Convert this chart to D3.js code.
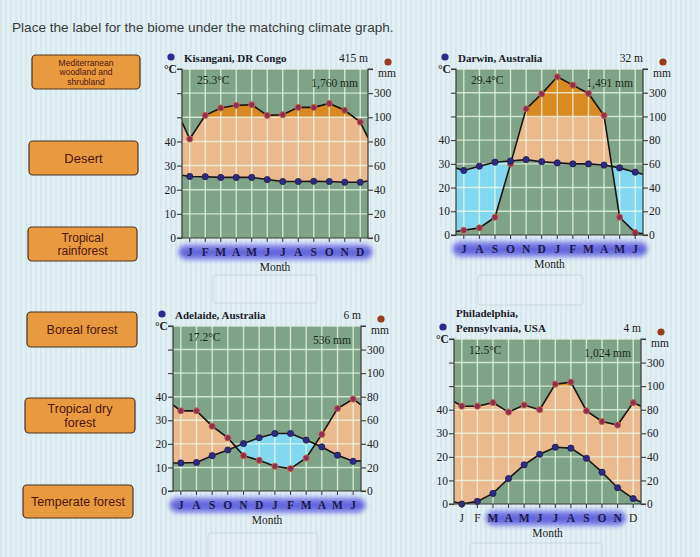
<!DOCTYPE html>
<html><head><meta charset="utf-8">
<script src="https://cdn.jsdelivr.net/npm/d3@7"></script>
<style>body{margin:0;background:#e2eff3;} svg{display:block}</style>
</head><body>
<svg id="c" width="700" height="557"></svg>
<script>
// ---------- data ----------
const monthsNorth = ["J","F","M","A","M","J","J","A","S","O","N","D"];
const monthsSouth = ["J","A","S","O","N","D","J","F","M","A","M","J"];

const kisTemp   = [25.5,25.4,25.1,25.1,25.1,24.2,23.4,23.4,23.5,23.4,23.1,23.1];
const kisPrecip = [82,116,177,199,204,116,121,182,182,215,158,96];
const kisTempEdge = [26.0,23.6];
const kisPrecipEdge = [96,83];

const darTemp   = [27.2,29.0,30.7,31.2,31.8,30.9,30.4,30.0,30.0,29.5,28.3,26.5];
const darPrecip = [4,6,15,60,164,290,434,364,294,108,15,2];
const darTempEdge = [28.2,25.6];
const darPrecipEdge = [3,1];

const adeTemp   = [11.9,12.1,15.0,17.4,20.1,22.6,24.4,24.4,21.6,18.7,15.2,12.6];
const adePrecip = [68,68,55,45,30,26,21,19,28,48,70,78];
const adeTempEdge = [11.9,12.8];
const adePrecipEdge = [73,73];

const phiTemp   = [0.0,1.1,4.5,10.8,16.6,21.1,24.1,23.7,19.4,13.5,6.9,2.3];
const phiPrecip = [83,83,86,78,84,80,117,134,79,70,67,86];
const phiTempEdge = [1.0,0.8];
const phiPrecipEdge = [87,83];

const tempTicks = [0,10,20,30,40];
const precipTicks = [0,20,40,60,80,100,300];

const labels = [
  ["Mediterranean","woodland and","shrubland"],
  ["Desert"],
  ["Tropical","rainforest"],
  ["Boreal forest"],
  ["Tropical dry","forest"],
  ["Temperate forest"]
];

// ---------- layout ----------
const charts = [
  {title:["Kisangani, DR Congo"], elev:"415 m", mean:"25.3°C", total:"1,760 mm",
   months:monthsNorth, temp:kisTemp, precip:kisPrecip, tEdge:kisTempEdge, pEdge:kisPrecipEdge,
   band:[0,11], left:182, right:368, top:69, zero:238},
  {title:["Darwin, Australia"], elev:"32 m", mean:"29.4°C", total:"1,491 mm",
   months:monthsSouth, temp:darTemp, precip:darPrecip, tEdge:darTempEdge, pEdge:darPrecipEdge,
   band:[0,11], left:456, right:643, top:69, zero:235},
  {title:["Adelaide, Australia"], elev:"6 m", mean:"17.2°C", total:"536 mm",
   months:monthsSouth, temp:adeTemp, precip:adePrecip, tEdge:adeTempEdge, pEdge:adePrecipEdge,
   band:[0,11], left:173, right:361, top:326, zero:491},
  {title:["Philadelphia,","Pennsylvania, USA"], elev:"4 m", mean:"12.5°C", total:"1,024 mm",
   months:monthsNorth, temp:phiTemp, precip:phiPrecip, tEdge:phiTempEdge, pEdge:phiPrecipEdge,
   band:[2,10], left:454, right:641, top:339, zero:504}
];

const labelBoxes = [
  [32,55,108,34,8.5],[29,141,109,34,13],[28,227,109,34,12],
  [27,312,110,35,12.5],[25,398,110,35,12.5],[23,485,110,33,12.5]
];
const dropBoxes = [[213,275,104,28],[478,275,105,30],[208,533,110,30],[470,543,132,20]];

const svg = d3.select("#c");
const defs = svg.append("defs");

// background stripes
const pat = defs.append("pattern").attr("id","stripes").attr("width",5).attr("height",10)
  .attr("patternUnits","userSpaceOnUse");
pat.append("rect").attr("width",5).attr("height",10).attr("fill","#e3f0f3");
pat.append("rect").attr("x",0).attr("width",2).attr("height",10).attr("fill","#d5e9ee");
svg.append("rect").attr("width",700).attr("height",557).attr("fill","url(#stripes)");

const blur = defs.append("filter").attr("id","blur").attr("x","-20%").attr("y","-80%")
  .attr("width","140%").attr("height","260%");
blur.append("feGaussianBlur").attr("stdDeviation",2.6);

const bandGrad = defs.append("linearGradient").attr("id","bandGrad").attr("x1",0).attr("x2",0).attr("y1",0).attr("y2",1);
bandGrad.append("stop").attr("offset","0%").attr("stop-color","#9a9ef2");
bandGrad.append("stop").attr("offset","50%").attr("stop-color","#5458d6");
bandGrad.append("stop").attr("offset","100%").attr("stop-color","#8b8fee");

// title
svg.append("text").attr("x",12).attr("y",32).attr("font-family","Liberation Sans, Arial, sans-serif")
  .attr("font-size",13.6).attr("fill","#3a3a3a").text("Place the label for the biome under the matching climate graph.");

// label boxes
labelBoxes.forEach((b,i)=>{
  const g = svg.append("g");
  g.append("rect").attr("x",b[0]).attr("y",b[1]).attr("width",b[2]).attr("height",b[3]).attr("rx",4)
    .attr("fill","#e99a3f").attr("stroke","#4a3326").attr("stroke-width",1.2);
  const lines = labels[i];
  const lh = b[4]*1.12;
  const y0 = b[1]+b[3]/2 - (lines.length-1)*lh/2 + b[4]*0.36;
  lines.forEach((t,j)=>{
    g.append("text").attr("x",b[0]+b[2]/2).attr("y",y0+j*lh).attr("text-anchor","middle")
      .attr("font-family","Liberation Sans, Arial, sans-serif").attr("font-size",b[4])
      .attr("fill","#4d1410").text(t);
  });
});
dropBoxes.forEach(b=>{
  svg.append("rect").attr("x",b[0]).attr("y",b[1]).attr("width",b[2]).attr("height",b[3]).attr("rx",3)
    .attr("fill","#e6f1f4").attr("fill-opacity",0.35).attr("stroke","#c9d6da").attr("stroke-width",0.9);
});

const serif = "Liberation Serif, Times New Roman, serif";

charts.forEach((c,ci)=>{
  const g = svg.append("g");
  const x = d3.scaleBand().domain(d3.range(12)).range([c.left,c.right]);
  const xc = i => x(i)+x.bandwidth()/2;
  const yT = d3.scaleLinear().domain([0,70]).range([c.zero,c.top]);
  const yP = d3.scaleLinear().domain([0,100,500]).range([c.zero,yT(50),c.top]);
  const w = c.right-c.left, h = c.zero-c.top;
  const y100 = yP(100);

  const tPts = [[c.left,yT(c.tEdge[0])]].concat(c.temp.map((v,i)=>[xc(i),yT(v)])).concat([[c.right,yT(c.tEdge[1])]]);
  const pPts = [[c.left,yP(c.pEdge[0])]].concat(c.precip.map((v,i)=>[xc(i),yP(v)])).concat([[c.right,yP(c.pEdge[1])]]);

  const areaDown = d3.area().x(d=>d[0]).y0(c.zero).y1(d=>d[1]);
  const areaUp = d3.area().x(d=>d[0]).y0(c.top).y1(d=>d[1]);
  const line = d3.line().x(d=>d[0]).y(d=>d[1]);

  const id = "c"+ci;
  defs.append("clipPath").attr("id",id+"plot").append("rect").attr("x",c.left).attr("y",c.top).attr("width",w).attr("height",h);
  defs.append("clipPath").attr("id",id+"aboveT").append("path").attr("d",areaUp(tPts));
  defs.append("clipPath").attr("id",id+"aboveP").append("path").attr("d",areaUp(pPts));
  defs.append("clipPath").attr("id",id+"below100").append("rect").attr("x",c.left).attr("y",y100).attr("width",w).attr("height",c.zero-y100);
  defs.append("clipPath").attr("id",id+"above100").append("rect").attr("x",c.left).attr("y",c.top).attr("width",w).attr("height",y100-c.top);

  // background
  g.append("rect").attr("x",c.left).attr("y",c.top).attr("width",w).attr("height",h).attr("fill","#7ea386");

  const pg = g.append("g").attr("clip-path",`url(#${id}plot)`);
  // peach (humid)
  pg.append("g").attr("clip-path",`url(#${id}aboveT)`)
    .append("g").attr("clip-path",`url(#${id}below100)`)
    .append("path").attr("d",areaDown(pPts)).attr("fill","#ebb98e");
  // dark orange (>100 mm)
  pg.append("g").attr("clip-path",`url(#${id}above100)`)
    .append("path").attr("d",areaDown(pPts)).attr("fill","#d98a22");
  // blue (arid)
  pg.append("g").attr("clip-path",`url(#${id}aboveP)`)
    .append("path").attr("d",areaDown(tPts)).attr("fill","#82d8f0");

  // grid
  d3.range(12).forEach(i=>{
    pg.append("line").attr("x1",xc(i)).attr("x2",xc(i)).attr("y1",c.top).attr("y2",c.zero)
      .attr("stroke","#eefbea").attr("stroke-opacity",0.75).attr("stroke-width",1.4);
  });
  d3.range(10,71,10).forEach(v=>{
    pg.append("line").attr("x1",c.left).attr("x2",c.right).attr("y1",yT(v)).attr("y2",yT(v))
      .attr("stroke","#eefbea").attr("stroke-opacity",0.75).attr("stroke-width",1.4);
  });

  // lines
  pg.append("path").attr("d",line(pPts)).attr("fill","none").attr("stroke","#1a1410").attr("stroke-width",1.6);
  pg.append("path").attr("d",line(tPts)).attr("fill","none").attr("stroke","#1a1410").attr("stroke-width",1.6);

  // dots
  g.selectAll(null).data(c.precip).enter().append("circle")
    .attr("cx",(d,i)=>xc(i)).attr("cy",d=>yP(d)).attr("r",3.1)
    .attr("fill","#8d2d5a").attr("stroke","#c96a3c").attr("stroke-width",0.9);
  g.selectAll(null).data(c.temp).enter().append("circle")
    .attr("cx",(d,i)=>xc(i)).attr("cy",d=>yT(d)).attr("r",3.1)
    .attr("fill","#2e2a86").attr("stroke","#1c1a4a").attr("stroke-width",0.8);

  // axes
  const axc = "#3a3a3a";
  const yAxL = d3.axisLeft(yT).tickValues(d3.range(0,71,10)).tickSize(5).tickFormat(v=>tempTicks.includes(v)?String(v):"");
  const gl = g.append("g").attr("transform",`translate(${c.left},0)`).call(yAxL);
  const yAxR = d3.axisRight(yP).tickValues(precipTicks.concat([500])).tickSize(5).tickFormat(v=>precipTicks.includes(v)?String(v):"");
  const gr = g.append("g").attr("transform",`translate(${c.right},0)`).call(yAxR);
  const xAx = d3.axisBottom(x).tickSize(4).tickFormat("");
  const gx = g.append("g").attr("transform",`translate(0,${c.zero})`).call(xAx);
  [gl,gr,gx].forEach(a=>{
    a.selectAll("path.domain").attr("stroke",axc).attr("stroke-width",1.2);
    a.selectAll("line").attr("stroke",axc).attr("stroke-width",1.1);
    a.selectAll("text").attr("font-family",serif).attr("font-size",11.5).attr("fill","#222");
  });
  gl.select("path.domain").attr("d",`M-5,${c.top}H0V${c.zero}H-5`);
  gr.select("path.domain").attr("d",`M5,${c.top}H0V${c.zero}H5`);
  gx.select("path.domain").attr("d",`M${c.left},0H${c.right}`);
  gl.selectAll("text").attr("x",-6);
  gr.selectAll("text").attr("x",6);

  // unit labels
  g.append("text").attr("x",c.left-18).attr("y",c.top+4).attr("font-family",serif).attr("font-size",11.5)
    .attr("font-weight","bold").attr("fill","#222").text("°C");
  g.append("text").attr("x",c.right+10).attr("y",c.top+8).attr("font-family",serif).attr("font-size",11.5)
    .attr("fill","#222").text("mm");

  // header
  const nT = c.title.length;
  c.title.forEach((t,j)=>{
    g.append("text").attr("x",c.left+2).attr("y",c.top-7-(nT-1-j)*15).attr("font-family",serif)
      .attr("font-size",11).attr("font-weight","bold").attr("fill","#1b1b2b").text(t);
  });
  g.append("circle").attr("cx",c.left-11).attr("cy",c.top-12).attr("r",3.6).attr("fill","#2b2b8e");
  g.append("circle").attr("cx",c.right+20).attr("cy",c.top-7).attr("r",3.6).attr("fill","#9a3a1a");
  g.append("text").attr("x",c.right).attr("y",c.top-7).attr("text-anchor","end").attr("font-family",serif)
    .attr("font-size",11.5).attr("fill","#1b1b1b").text(c.elev);
  g.append("text").attr("x",c.left+15).attr("y",c.top+15).attr("font-family",serif)
    .attr("font-size",11.5).attr("fill","#1a2a1a").text(c.mean);
  g.append("text").attr("x",c.right-10).attr("y",c.top+18).attr("text-anchor","end").attr("font-family",serif)
    .attr("font-size",11.5).attr("fill","#1a2a1a").text(c.total);

  // month band
  const by = c.zero+14;
  const bx0 = xc(c.band[0]) - (c.band[0]===0?11:7), bx1 = xc(c.band[1]) + (c.band[1]===11?12:8);
  g.append("rect").attr("x",bx0).attr("y",by-8).attr("width",bx1-bx0).attr("height",16).attr("rx",8)
    .attr("fill","url(#bandGrad)").attr("filter","url(#blur)");
  c.months.forEach((m,i)=>{
    const inBand = i>=c.band[0] && i<=c.band[1];
    g.append("text").attr("x",xc(i)).attr("y",by+4).attr("text-anchor","middle").attr("font-family",serif)
      .attr("font-size",11.5).attr("font-weight",inBand?"bold":"normal")
      .attr("fill",inBand?"#1b1b4a":"#222").text(m);
  });
  g.append("text").attr("x",(c.left+c.right)/2).attr("y",c.zero+33).attr("text-anchor","middle")
    .attr("font-family",serif).attr("font-size",11.5).attr("fill","#1b1b1b").text("Month");
});
</script>
</body></html>
